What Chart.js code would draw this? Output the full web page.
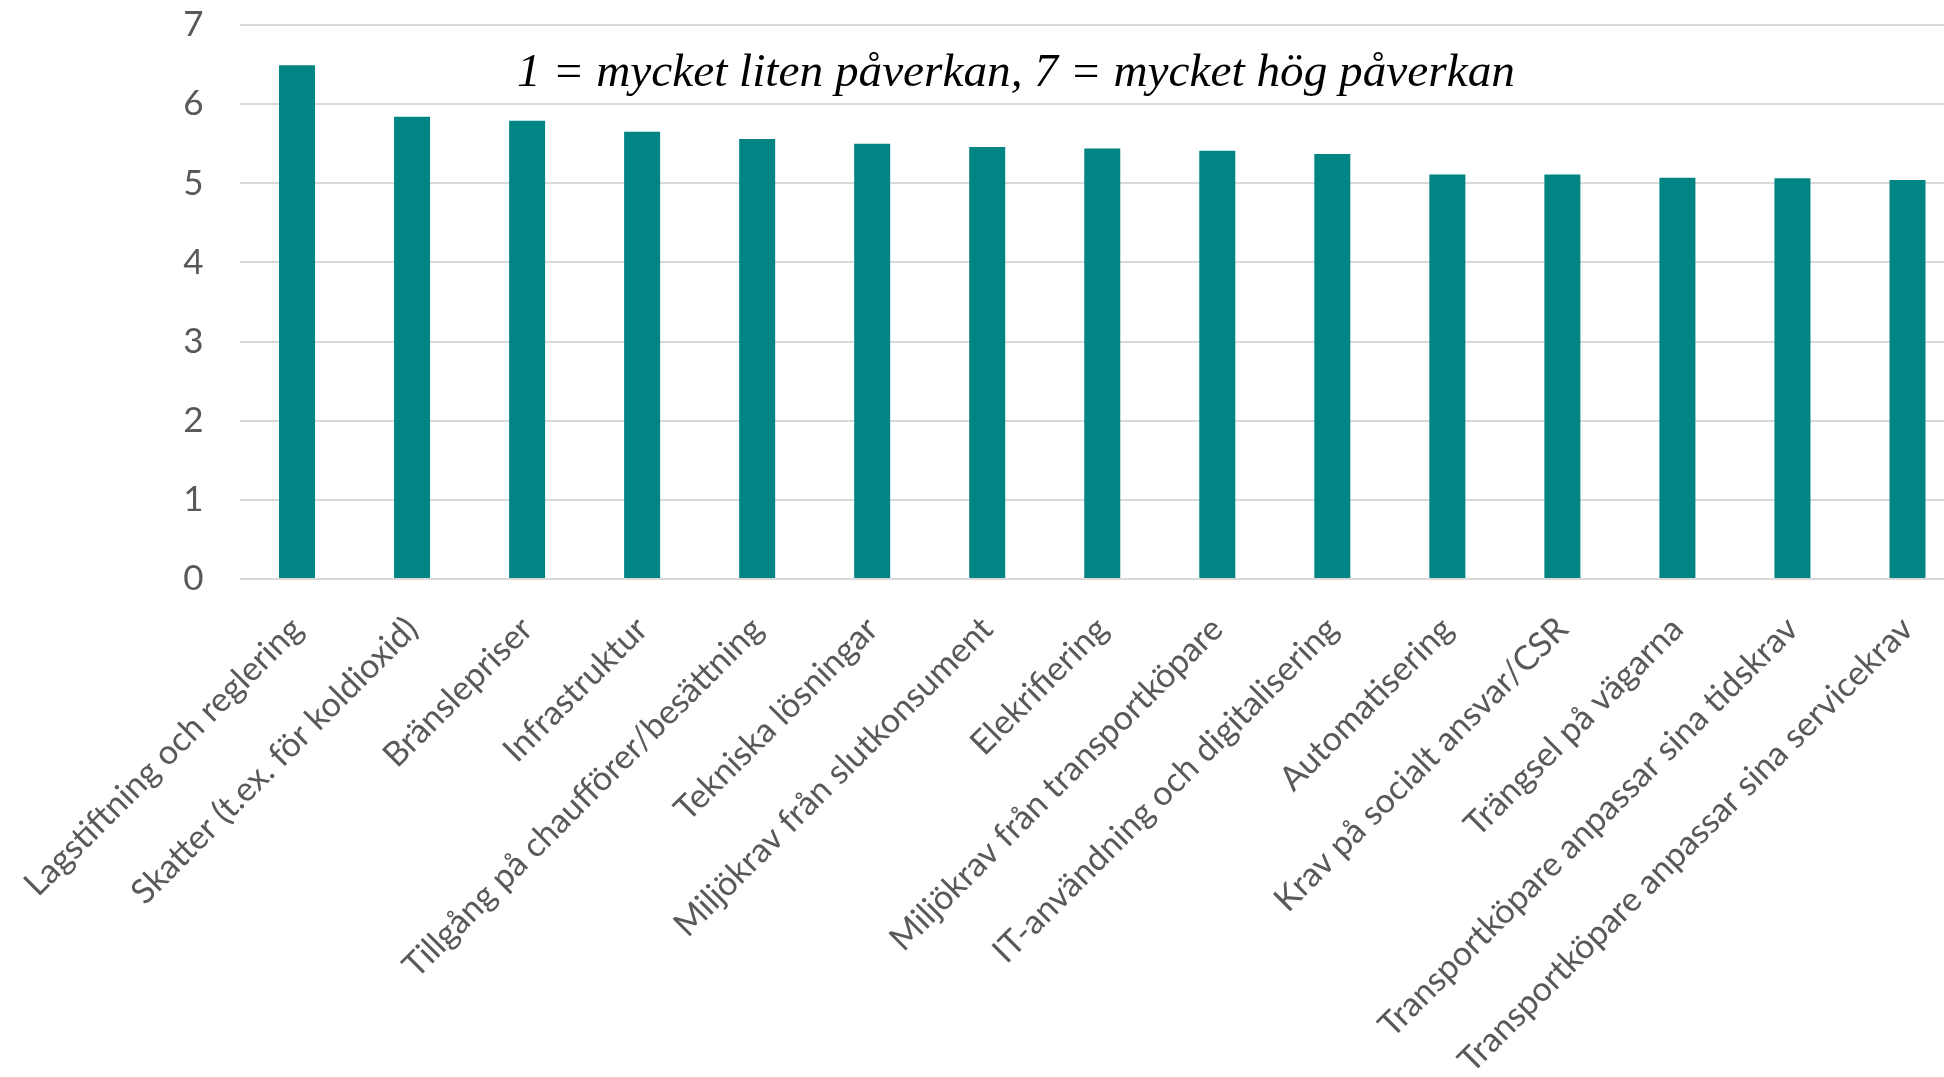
<!DOCTYPE html>
<html>
<head>
<meta charset="utf-8">
<script src="https://cdn.jsdelivr.net/npm/chart.js@4.4.1/dist/chart.umd.min.js"></script>
<style>
  html, body { margin: 0; padding: 0; background: #ffffff; overflow: hidden; }
  #wrap { position: absolute; left: 0; top: 0; width: 1966px; height: 1077px; }
</style>
</head>
<body>
<div id="wrap"><canvas id="c" width="1966" height="1077"></canvas></div>
<script>
const categories = [
  "Lagstiftning och reglering",
  "Skatter (t.ex. för koldioxid)",
  "Bränslepriser",
  "Infrastruktur",
  "Tillgång på chaufförer/besättning",
  "Tekniska lösningar",
  "Miljökrav från slutkonsument",
  "Elekrifiering",
  "Miljökrav från transportköpare",
  "IT-användning och digitalisering",
  "Automatisering",
  "Krav på socialt ansvar/CSR",
  "Trängsel på vägarna",
  "Transportköpare anpassar sina tidskrav",
  "Transportköpare anpassar sina servicekrav"
];
const values = [6.49, 5.84, 5.79, 5.65, 5.56, 5.50, 5.46, 5.44, 5.41, 5.37, 5.11, 5.11, 5.07, 5.065, 5.04];
const yTicks = [0, 1, 2, 3, 4, 5, 6, 7];
const noteText = "1 = mycket liten påverkan, 7 = mycket hög påverkan";

const noteWidth = 998;
const notePlugin = {
  id: 'note',
  afterDraw(chart) {
    const ctx = chart.ctx;
    ctx.save();
    let size = 46;
    ctx.font = 'italic ' + size + 'px "Liberation Serif", serif';
    const w = ctx.measureText(noteText).width;
    size = size * noteWidth / w;
    ctx.font = 'italic ' + size.toFixed(2) + 'px "Liberation Serif", serif';
    ctx.fillStyle = '#000000';
    ctx.textAlign = 'left';
    ctx.textBaseline = 'alphabetic';
    ctx.fillText(noteText, 517, 86);
    ctx.restore();
  }
};

new Chart(document.getElementById('c'), {
  type: 'bar',
  data: {
    labels: categories,
    datasets: [{
      data: values,
      backgroundColor: '#008584',
      borderWidth: 0,
      categoryPercentage: 1.0,
      barPercentage: 0.313
    }]
  },
  options: {
    responsive: false,
    devicePixelRatio: 1,
    animation: false,
    layout: { padding: { top: 25, right: 1, left: 0, bottom: 0 } },
    plugins: { legend: { display: false }, tooltip: { enabled: false }, title: { display: false } },
    scales: {
      y: {
        min: 0, max: 7,
        afterFit(scale) { scale.width = 239.5; scale.paddingTop = 0; scale.paddingBottom = 0; },
        afterBuildTicks(scale) { scale.ticks = yTicks.map(v => ({ value: v })); },
        grid: { color: '#d9d9d9', lineWidth: 2, drawTicks: false },
        border: { display: false },
        ticks: { color: '#595959', font: { family: 'Lato', size: 35 }, padding: 36 }
      },
      x: {
        afterFit(scale) { scale.height = 1077 - 579; },
        grid: { display: false },
        border: { display: false },
        ticks: {
          color: '#595959', font: { family: 'Lato', size: 34 },
          minRotation: 45, maxRotation: 45, autoSkip: false, padding: 22
        }
      }
    }
  },
  plugins: [notePlugin]
});
</script>
</body>
</html>
